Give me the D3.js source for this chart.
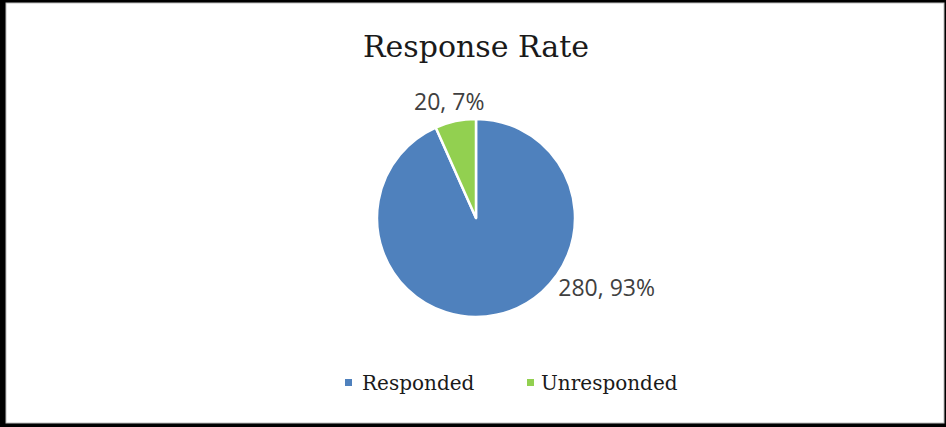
<!DOCTYPE html>
<html>
<head>
<meta charset="utf-8">
<script src="https://cdn.jsdelivr.net/npm/d3@7/dist/d3.min.js"></script>
<style>
  html, body { margin: 0; padding: 0; background: #fff; }
  svg { display: block; }
</style>
</head>
<body>
<svg id="chart" width="946" height="427"></svg>
<script>
const title = "Response Rate";
const categories = ["Responded", "Unresponded"];
const values = [280, 20];
const percentLabels = ["93%", "7%"];
const colors = ["#4F81BD", "#92D050"];

const W = 946, H = 427;
const svg = d3.select("#chart");

// frame
svg.append("rect").attr("x", 0).attr("y", 0).attr("width", W).attr("height", H).attr("fill", "#000");
svg.append("rect").attr("x", 6).attr("y", 3).attr("width", 938).attr("height", 420)
  .attr("fill", "#fff").attr("stroke", "#bfbfbf").attr("stroke-width", 1);

// title
svg.append("text")
  .attr("x", 476).attr("y", 57)
  .attr("text-anchor", "middle")
  .attr("font-family", "'DejaVu Serif', serif")
  .attr("font-size", 30)
  .attr("fill", "#1a1a1a")
  .text(title);

// pie
const cx = 476, cy = 218, R = 99;
const data = categories.map((c, i) => ({ cat: c, value: values[i], pct: percentLabels[i], color: colors[i] }));
const pie = d3.pie().sort(null).value(d => d.value);
const arcs = pie(data);
const arc = d3.arc().innerRadius(0).outerRadius(R);

const g = svg.append("g").attr("transform", `translate(${cx},${cy})`);
g.selectAll("path").data(arcs).join("path")
  .attr("d", arc)
  .attr("fill", d => d.data.color)
  .attr("stroke", "#fff")
  .attr("stroke-width", 2.5)
  .attr("stroke-linejoin", "round");

// data labels (best-fit style placement: angle in degrees clockwise from top, radial distance)
const labelPlacement = [{ angle: 118, dist: 148 }, { angle: -13, dist: 119 }];
g.selectAll("text.lbl").data(arcs).join("text")
  .attr("class", "lbl")
  .attr("x", (d, i) => Math.sin(labelPlacement[i].angle * Math.PI / 180) * labelPlacement[i].dist)
  .attr("y", (d, i) => -Math.cos(labelPlacement[i].angle * Math.PI / 180) * labelPlacement[i].dist)
  .attr("dy", "0.35em")
  .attr("text-anchor", "middle")
  .attr("font-family", "'Open Sans', sans-serif")
  .attr("font-size", 23)
  .attr("fill", "#404040")
  .text(d => `${d.data.value}, ${d.data.pct}`);

// legend
const legendItems = [
  { x: 345, tx: 362 },
  { x: 527, tx: 541 }
];
const lg = svg.append("g");
data.forEach((d, i) => {
  lg.append("rect")
    .attr("x", legendItems[i].x).attr("y", 379)
    .attr("width", 7).attr("height", 7)
    .attr("fill", d.color);
  lg.append("text")
    .attr("x", legendItems[i].tx).attr("y", 390)
    .attr("font-family", "'DejaVu Serif', serif")
    .attr("font-size", 20)
    .attr("fill", "#1a1a1a")
    .text(d.cat);
});
</script>
</body>
</html>
